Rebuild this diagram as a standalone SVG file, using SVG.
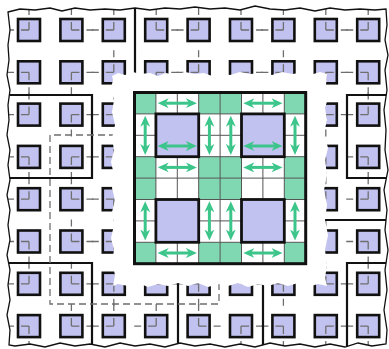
<svg xmlns="http://www.w3.org/2000/svg" xmlns:xlink="http://www.w3.org/1999/xlink" width="389" height="349" viewBox="0 0 389 349">
<style>
.sq{fill:#c2c2f0;stroke:#111;stroke-width:2.6}
.tk{fill:none;stroke:#6e6e6e;stroke-width:1.3}
.part{fill:none;stroke:#111;stroke-width:2.2}
.dash{fill:none;stroke:#6e6e6e;stroke-width:1.3;stroke-dasharray:7 4}
.gc{fill:#80d8b2}
.gl{stroke:#555;stroke-width:1}
.bq{fill:#c2c2f0;stroke:#111;stroke-width:2.8}
.ar{stroke:#3cc58a;stroke-width:3;marker-start:url(#ah);marker-end:url(#ah)}
</style>
<defs>
<marker id="ah" viewBox="0 0 10 10" refX="3" refY="5" markerWidth="11" markerHeight="11" markerUnits="userSpaceOnUse" orient="auto-start-reverse"><path d="M0,0.5 L10,5 L0,9.5 L3,5 z" fill="#3cc58a"/></marker>
<path id="edge" d="M8,12 L20,9 L35,10 L50,8 L62,11 L75,8 L90,10 L105,9 L120,10 L135,8 L150,10 L165,8 L180,9 L195,7 L210,9 L225,8 L240,10 L255,6 L270,9 L285,10 L300,8 L315,11 L330,8 L345,10 L360,9 L375,10 L386,9 L387,25 L385,40 L388,55 L385,70 L387,90 L384,110 L386,130 L385,150 L388,170 L384,190 L387,210 L385,230 L388,250 L385,270 L387,290 L384,310 L387,330 L386,344 L372,346 L358,343 L345,347 L330,344 L315,347 L300,344 L285,346 L270,343 L255,347 L240,344 L225,347 L210,344 L195,346 L180,343 L165,347 L150,344 L135,346 L120,343 L105,347 L90,344 L75,346 L60,343 L45,347 L30,344 L15,346 L9,345 L10,330 L7,315 L10,300 L8,285 L10,270 L7,255 L10,240 L8,225 L10,210 L7,195 L10,180 L8,165 L10,150 L7,135 L9,120 L8,105 L10,90 L7,75 L9,60 L8,45 L10,30 Z"/>
<clipPath id="clip"><use xlink:href="#edge"/></clipPath>
<g id="ul"><rect class="sq" x="-11" y="-11" width="22" height="22"/><path class="tk" d="M0,0V-8M0,0H-8M0,-15V-22M-15,0H-22"/></g>
<g id="ur"><rect class="sq" x="-11" y="-11" width="22" height="22"/><path class="tk" d="M0,0V-8M0,0H8M0,-15V-22M15,0H22"/></g>
<g id="dl"><rect class="sq" x="-11" y="-11" width="22" height="22"/><path class="tk" d="M0,0V8M0,0H-8M0,15V22M-15,0H-22"/></g>
<g id="dr"><rect class="sq" x="-11" y="-11" width="22" height="22"/><path class="tk" d="M0,0V8M0,0H8M0,15V22M15,0H22"/></g>
</defs>
<rect width="389" height="349" fill="#fff"/>
<g id="background" clip-path="url(#clip)">
<g id="row0">
<use xlink:href="#ul" x="29" y="30"/><use xlink:href="#ur" x="71.4" y="30"/><use xlink:href="#ul" x="113.8" y="30"/><use xlink:href="#ur" x="156.2" y="30"/><use xlink:href="#ul" x="198.6" y="30"/><use xlink:href="#ur" x="241" y="30"/><use xlink:href="#ul" x="283.4" y="30"/><use xlink:href="#ur" x="325.8" y="30"/><use xlink:href="#ul" x="368.2" y="30"/>
</g>
<g id="row1">
<use xlink:href="#dl" x="29" y="72.3"/><use xlink:href="#dr" x="71.4" y="72.3"/><use xlink:href="#ul" x="113.8" y="72.3"/><use xlink:href="#dr" x="156.2" y="72.3"/><use xlink:href="#ul" x="198.6" y="72.3"/><use xlink:href="#dr" x="241" y="72.3"/><use xlink:href="#ul" x="283.4" y="72.3"/><use xlink:href="#dr" x="325.8" y="72.3"/><use xlink:href="#dl" x="368.2" y="72.3"/>
</g>
<g id="row2">
<use xlink:href="#ul" x="29" y="114.6"/><use xlink:href="#dr" x="71.4" y="114.6"/><use xlink:href="#ul" x="113.8" y="114.6"/><use xlink:href="#dr" x="156.2" y="114.6"/><use xlink:href="#ul" x="198.6" y="114.6"/><use xlink:href="#dr" x="241" y="114.6"/><use xlink:href="#ul" x="283.4" y="114.6"/><use xlink:href="#dr" x="325.8" y="114.6"/><use xlink:href="#ul" x="368.2" y="114.6"/>
</g>
<g id="row3">
<use xlink:href="#dl" x="29" y="156.9"/><use xlink:href="#dr" x="71.4" y="156.9"/><use xlink:href="#ul" x="113.8" y="156.9"/><use xlink:href="#ur" x="156.2" y="156.9"/><use xlink:href="#ul" x="198.6" y="156.9"/><use xlink:href="#dr" x="241" y="156.9"/><use xlink:href="#ul" x="283.4" y="156.9"/><use xlink:href="#dl" x="325.8" y="156.9"/><use xlink:href="#dl" x="368.2" y="156.9"/>
</g>
<g id="row4">
<use xlink:href="#ul" x="29" y="199.2"/><use xlink:href="#ur" x="71.4" y="199.2"/><use xlink:href="#dl" x="113.8" y="199.2"/><use xlink:href="#ur" x="156.2" y="199.2"/><use xlink:href="#dl" x="198.6" y="199.2"/><use xlink:href="#ur" x="241" y="199.2"/><use xlink:href="#ul" x="283.4" y="199.2"/><use xlink:href="#ul" x="325.8" y="199.2"/><use xlink:href="#ul" x="368.2" y="199.2"/>
</g>
<g id="row5">
<use xlink:href="#dl" x="29" y="241.5"/><use xlink:href="#ur" x="71.4" y="241.5"/><use xlink:href="#dl" x="113.8" y="241.5"/><use xlink:href="#ur" x="156.2" y="241.5"/><use xlink:href="#dl" x="198.6" y="241.5"/><use xlink:href="#ur" x="241" y="241.5"/><use xlink:href="#ul" x="283.4" y="241.5"/><use xlink:href="#ul" x="325.8" y="241.5"/><use xlink:href="#dl" x="368.2" y="241.5"/>
</g>
<g id="row6">
<use xlink:href="#ul" x="29" y="283.8"/><use xlink:href="#ur" x="71.4" y="283.8"/><use xlink:href="#dl" x="113.8" y="283.8"/><use xlink:href="#ur" x="156.2" y="283.8"/><use xlink:href="#dl" x="198.6" y="283.8"/><use xlink:href="#ur" x="241" y="283.8"/><use xlink:href="#dl" x="283.4" y="283.8"/><use xlink:href="#ur" x="325.8" y="283.8"/><use xlink:href="#ul" x="368.2" y="283.8"/>
</g>
<g id="row7">
<use xlink:href="#dl" x="29" y="326.1"/><use xlink:href="#ur" x="71.4" y="326.1"/><use xlink:href="#ul" x="113.8" y="326.1"/><use xlink:href="#ul" x="156.2" y="326.1"/><use xlink:href="#ur" x="198.6" y="326.1"/><use xlink:href="#dr" x="241" y="326.1"/><use xlink:href="#dl" x="283.4" y="326.1"/><use xlink:href="#dr" x="325.8" y="326.1"/><use xlink:href="#dl" x="368.2" y="326.1"/>
</g>
<g id="partitions">
<path class="part" d="M135,5 V74"/>
<path class="part" d="M4,95 H92 V178 H4"/>
<path class="part" d="M4,263 H92 V349"/>
<path class="part" d="M178,280 V349"/>
<path class="part" d="M263,280 V349"/>
<path class="part" d="M392,95 H347 V178 H392"/>
<path class="part" d="M392,263 H347 V349"/>
<path class="part" d="M320,220 H392"/>
<path class="dash" d="M116,135 H50 V304 H219 V280"/>
</g>
</g>
<use id="border" xlink:href="#edge" fill="none" stroke="#111" stroke-width="1.3"/>
<path id="cutout" fill="#fff" d="M112,76 L118,73 L125,75 L133,72 L140,74 L150,73 L158,76 L166,73 L175,75 L185,72 L195,74 L204,73 L212,76 L220,73 L230,75 L240,72 L250,74 L262,73 L272,75 L282,72 L292,74 L300,73 L310,75 L320,72 L327,74 L326,85 L329,95 L325,108 L327,120 L324,133 L328,148 L325,160 L327,175 L324,190 L327,205 L325,220 L328,235 L325,250 L327,265 L325,278 L327,286 L318,284 L308,287 L298,283 L288,286 L278,283 L268,286 L258,284 L248,287 L238,283 L228,286 L218,284 L208,287 L198,283 L188,286 L178,283 L168,286 L158,284 L148,287 L138,283 L128,286 L118,284 L113,286 L115,275 L112,262 L114,250 L111,238 L114,225 L112,212 L115,200 L112,188 L114,175 L111,162 L114,150 L112,138 L115,125 L112,112 L114,100 L111,88 L113,80 Z"/>
<g id="panel">
<rect x="134.5" y="92.5" width="171.2" height="171.2" fill="#fff"/>
<g id="green-cells">
<rect class="gc" x="134.5" y="92.5" width="21.4" height="21.4"/><rect class="gc" x="198.7" y="92.5" width="21.4" height="21.4"/><rect class="gc" x="220.1" y="92.5" width="21.4" height="21.4"/><rect class="gc" x="284.3" y="92.5" width="21.4" height="21.4"/>
<rect class="gc" x="134.5" y="156.7" width="21.4" height="21.4"/><rect class="gc" x="198.7" y="156.7" width="21.4" height="21.4"/><rect class="gc" x="220.1" y="156.7" width="21.4" height="21.4"/><rect class="gc" x="284.3" y="156.7" width="21.4" height="21.4"/>
<rect class="gc" x="134.5" y="178.1" width="21.4" height="21.4"/><rect class="gc" x="198.7" y="178.1" width="21.4" height="21.4"/><rect class="gc" x="220.1" y="178.1" width="21.4" height="21.4"/><rect class="gc" x="284.3" y="178.1" width="21.4" height="21.4"/>
<rect class="gc" x="134.5" y="242.3" width="21.4" height="21.4"/><rect class="gc" x="198.7" y="242.3" width="21.4" height="21.4"/><rect class="gc" x="220.1" y="242.3" width="21.4" height="21.4"/><rect class="gc" x="284.3" y="242.3" width="21.4" height="21.4"/>
</g>
<g id="grid-lines" class="gl">
<line x1="155.9" y1="92.5" x2="155.9" y2="263.7"/><line x1="177.3" y1="92.5" x2="177.3" y2="263.7"/><line x1="198.7" y1="92.5" x2="198.7" y2="263.7"/><line x1="220.1" y1="92.5" x2="220.1" y2="263.7"/><line x1="241.5" y1="92.5" x2="241.5" y2="263.7"/><line x1="262.9" y1="92.5" x2="262.9" y2="263.7"/><line x1="284.3" y1="92.5" x2="284.3" y2="263.7"/>
<line x1="134.5" y1="113.9" x2="305.7" y2="113.9"/><line x1="134.5" y1="135.3" x2="305.7" y2="135.3"/><line x1="134.5" y1="156.7" x2="305.7" y2="156.7"/><line x1="134.5" y1="178.1" x2="305.7" y2="178.1"/><line x1="134.5" y1="199.5" x2="305.7" y2="199.5"/><line x1="134.5" y1="220.9" x2="305.7" y2="220.9"/><line x1="134.5" y1="242.3" x2="305.7" y2="242.3"/>
</g>
<g id="blocks">
<rect class="bq" x="155.9" y="113.9" width="42.8" height="42.8"/><rect class="bq" x="241.5" y="113.9" width="42.8" height="42.8"/>
<rect class="bq" x="155.9" y="199.5" width="42.8" height="42.8"/><rect class="bq" x="241.5" y="199.5" width="42.8" height="42.8"/>
</g>
<g id="arrows">
<line class="ar" x1="165.4" y1="103.2" x2="189.2" y2="103.2"/><line class="ar" x1="251" y1="103.2" x2="274.8" y2="103.2"/>
<line class="ar" x1="165.4" y1="146" x2="189.2" y2="146"/><line class="ar" x1="251" y1="146" x2="274.8" y2="146"/>
<line class="ar" x1="165.4" y1="167.4" x2="189.2" y2="167.4"/><line class="ar" x1="251" y1="167.4" x2="274.8" y2="167.4"/>
<line class="ar" x1="165.4" y1="253" x2="189.2" y2="253"/><line class="ar" x1="251" y1="253" x2="274.8" y2="253"/>
<line class="ar" x1="145.2" y1="123.4" x2="145.2" y2="147.2"/><line class="ar" x1="209.4" y1="123.4" x2="209.4" y2="147.2"/><line class="ar" x1="230.8" y1="123.4" x2="230.8" y2="147.2"/><line class="ar" x1="295" y1="123.4" x2="295" y2="147.2"/>
<line class="ar" x1="145.2" y1="209" x2="145.2" y2="232.8"/><line class="ar" x1="209.4" y1="209" x2="209.4" y2="232.8"/><line class="ar" x1="230.8" y1="209" x2="230.8" y2="232.8"/><line class="ar" x1="295" y1="209" x2="295" y2="232.8"/>
</g>
<rect x="134.5" y="92.5" width="171.2" height="171.2" fill="none" stroke="#111" stroke-width="3"/>
</g>
</svg>
